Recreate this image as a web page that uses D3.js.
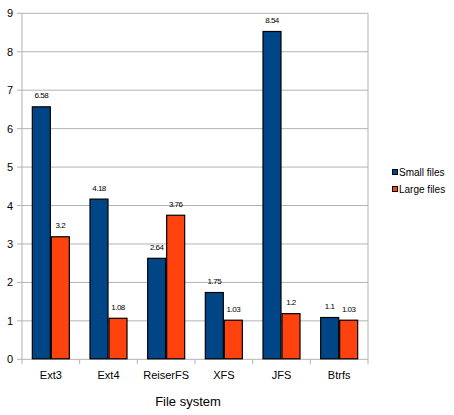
<!DOCTYPE html>
<html><head><meta charset="utf-8">
<script src="https://cdn.jsdelivr.net/npm/d3@7"></script>
<style>body{margin:0;background:#fff}svg{display:block}text{font-family:"Liberation Sans",Arial,sans-serif}</style>
</head><body><svg id="c" width="454" height="415"></svg>
<script>
const categories = ["Ext3","Ext4","ReiserFS","XFS","JFS","Btrfs"];
const smallFiles = [6.58,4.18,2.64,1.75,8.54,1.1];
const largeFiles = [3.2,1.08,3.76,1.03,1.2,1.03];
const seriesNames = ["Small files","Large files"];
const yTicks = [0,1,2,3,4,5,6,7,8,9];
const colors = ["#004586","#ff420e"];

const svg = d3.select("#c");
const L=22, R=368, T=13.3, B=359.3;
const x = d3.scaleBand().domain(categories).range([L,R]).paddingInner(0).paddingOuter(0);
const y = d3.scaleLinear().domain([0,9]).range([B,T]);
const bw = 19;
const off = (x.bandwidth()-2*bw)/2;

// gridlines
svg.append("g").selectAll("line").data(yTicks).join("line")
  .attr("x1",L-5).attr("x2",R).attr("y1",d=>y(d)).attr("y2",d=>y(d))
  .attr("stroke","#b3b3b3").attr("stroke-width",1);
// axes
svg.append("line").attr("x1",L).attr("x2",L).attr("y1",T).attr("y2",B+5).attr("stroke","#b3b3b3");
svg.append("line").attr("x1",R).attr("x2",R).attr("y1",T).attr("y2",B+5).attr("stroke","#b3b3b3");
svg.append("g").selectAll("line").data(categories.slice(1)).join("line")
  .attr("x1",d=>x(d)).attr("x2",d=>x(d)).attr("y1",B).attr("y2",B+5).attr("stroke","#b3b3b3");

svg.append("g").selectAll("text").data(yTicks).join("text")
  .attr("x",13).attr("y",d=>y(d)+4).attr("text-anchor","end")
  .attr("font-size",11).attr("fill","#000").text(d=>d);

svg.append("g").selectAll("text").data(categories).join("text")
  .attr("x",d=>x(d)+x.bandwidth()/2).attr("y",379).attr("text-anchor","middle")
  .attr("font-size",11).attr("fill","#000").text(d=>d);

const series=[smallFiles,largeFiles];
series.forEach((vals,si)=>{
  const g=svg.append("g");
  g.selectAll("rect").data(vals).join("rect")
    .attr("x",(d,i)=>x(categories[i])+off+si*bw+0.5)
    .attr("y",d=>y(d)+0.5)
    .attr("width",bw-1)
    .attr("height",d=>B-y(d)-1)
    .attr("fill",colors[si]).attr("stroke","#000").attr("stroke-width",1.2);
  g.selectAll("text").data(vals).join("text")
    .attr("x",(d,i)=>x(categories[i])+off+si*bw+bw/2)
    .attr("y",d=>y(d)-8)
    .attr("text-anchor","middle").attr("font-size",8).attr("letter-spacing","-0.5")
    .attr("fill","#000").text(d=>d);
});

svg.append("text").attr("x",188).attr("y",406).attr("text-anchor","middle")
  .attr("font-size",13).attr("fill","#000").text("File system");

const lg=svg.append("g");
seriesNames.forEach((n,i)=>{
  lg.append("rect").attr("x",392.5).attr("y",169.5+i*17).attr("width",5).attr("height",5)
    .attr("fill",colors[i]).attr("stroke","#000").attr("stroke-width",1);
  lg.append("text").attr("x",399).attr("y",175.5+i*17).attr("font-size",10).attr("fill","#000").text(n);
});
</script></body></html>
